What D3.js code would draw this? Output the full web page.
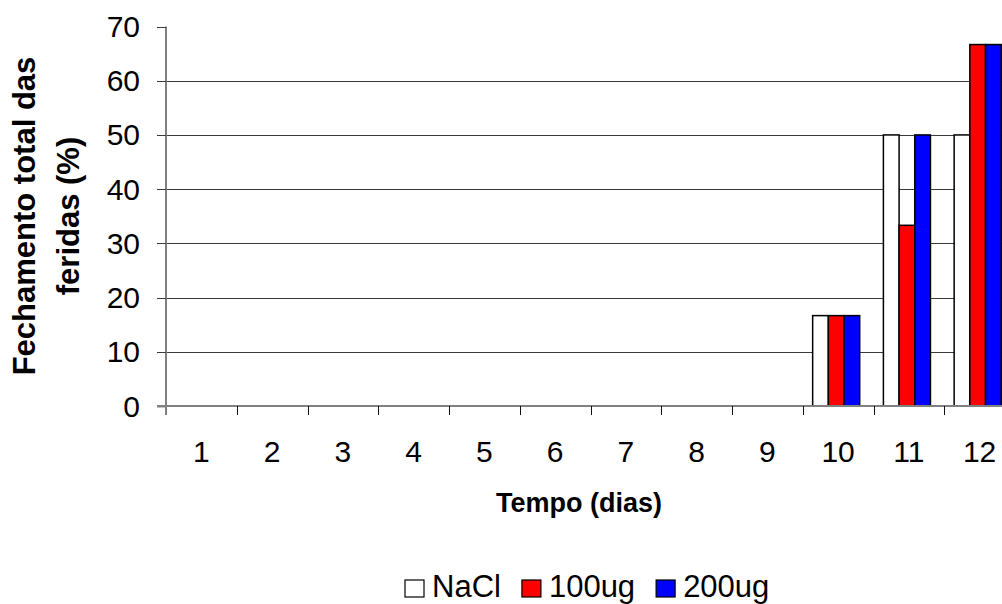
<!DOCTYPE html>
<head>
    <meta charset="utf-8" />
    <script src="https://d3js.org/d3.v7.min.js"></script>
    <style>
        body { margin: 0; background: #fff; }
        text { font-family: Arial, "Liberation Sans", sans-serif; }
    </style>
</head>
<body>
<div id="chart"></div>
<script>
    // dados
    const dias = ["1", "2", "3", "4", "5", "6", "7", "8", "9", "10", "11", "12"];
    const grupos = ["NaCl", "100ug", "200ug"];
    const nacl = [0, 0, 0, 0, 0, 0, 0, 0, 0, 16.67, 50, 50];
    const ug100 = [0, 0, 0, 0, 0, 0, 0, 0, 0, 16.67, 33.33, 66.67];
    const ug200 = [0, 0, 0, 0, 0, 0, 0, 0, 0, 16.67, 50, 66.67];
    const yTicks = [0, 10, 20, 30, 40, 50, 60, 70];
    const cores = ["#ffffff", "#ff0000", "#0000ff"];

    const W = 1002, H = 604;
    const plotLeft = 166, plotTop = 26.5, plotBottom = 406;

    const svg = d3.select("#chart").append("svg")
        .attr("width", W).attr("height", H);
    svg.append("rect").attr("width", W).attr("height", H).attr("fill", "#fff");

    // escalas
    const x = d3.scaleBand().domain(dias).range([plotLeft, plotLeft + 12 * 70.75]);
    const y = d3.scaleLinear().domain([0, 70]).range([plotBottom, plotTop]);
    const xIn = d3.scaleBand().domain(grupos)
        .range([x.bandwidth() * 0.14, x.bandwidth() * 0.805]);

    // linhas de grade
    svg.append("g").selectAll("line")
        .data(yTicks.filter(d => d > 0 && d < 70))
        .enter().append("line")
        .attr("x1", plotLeft).attr("x2", W)
        .attr("y1", d => Math.round(y(d)) + 0.5).attr("y2", d => Math.round(y(d)) + 0.5)
        .attr("stroke", "#3a3a3a").attr("stroke-width", 1);

    // barras
    const series = [nacl, ug100, ug200];
    const barras = [];
    dias.forEach((d, i) => {
        grupos.forEach((g, j) => {
            if (series[j][i] > 0) barras.push({ dia: d, grupo: g, v: series[j][i], c: cores[j] });
        });
    });
    svg.append("g").selectAll("rect")
        .data(barras)
        .enter().append("rect")
        .attr("x", d => x(d.dia) + xIn(d.grupo))
        .attr("y", d => y(d.v))
        .attr("width", xIn.bandwidth())
        .attr("height", d => plotBottom - y(d.v))
        .attr("fill", d => d.c)
        .attr("stroke", "#000")
        .attr("stroke-width", 1.5);

    // eixo y
    const yAxis = svg.append("g");
    yAxis.append("line")
        .attr("x1", plotLeft).attr("x2", plotLeft)
        .attr("y1", plotTop).attr("y2", plotBottom + 9)
        .attr("stroke", "#808080").attr("stroke-width", 2);
    yAxis.selectAll("line.tick")
        .data(yTicks).enter().append("line")
        .attr("class", "tick")
        .attr("x1", plotLeft - 9).attr("x2", plotLeft)
        .attr("y1", d => Math.round(y(d)) + 0.5).attr("y2", d => Math.round(y(d)) + 0.5)
        .attr("stroke", d => d === 0 ? "#808080" : "#3a3a3a")
        .attr("stroke-width", d => d === 0 ? 2 : 1);
    yAxis.selectAll("text")
        .data(yTicks).enter().append("text")
        .attr("x", 140).attr("y", d => y(d) + 10.5)
        .attr("text-anchor", "end")
        .style("font-size", "30px")
        .text(d => d);

    // eixo x
    const xAxis = svg.append("g");
    xAxis.append("line")
        .attr("x1", plotLeft - 9).attr("x2", W)
        .attr("y1", plotBottom).attr("y2", plotBottom)
        .attr("stroke", "#808080").attr("stroke-width", 2);
    xAxis.selectAll("line.tick")
        .data(dias.slice(1)).enter().append("line")
        .attr("class", "tick")
        .attr("x1", d => Math.round(x(d)) + 0.5).attr("x2", d => Math.round(x(d)) + 0.5)
        .attr("y1", plotBottom).attr("y2", plotBottom + 9)
        .attr("stroke", "#111");
    xAxis.selectAll("text")
        .data(dias).enter().append("text")
        .attr("x", d => x(d) + x.bandwidth() / 2)
        .attr("y", 462)
        .attr("text-anchor", "middle")
        .style("font-size", "30px")
        .text(d => d);

    // títulos dos eixos
    svg.append("text")
        .attr("x", 579).attr("y", 512)
        .attr("text-anchor", "middle")
        .style("font-size", "27px").style("font-weight", "bold")
        .text("Tempo (dias)");

    const yt = svg.append("text")
        .attr("transform", "translate(0,216) rotate(-90)")
        .attr("text-anchor", "middle")
        .style("font-size", "31px").style("font-weight", "bold");
    yt.append("tspan").attr("x", 0).attr("y", 35).text("Fechamento total das");
    yt.append("tspan").attr("x", 0).attr("y", 79).text("feridas (%)");

    // legenda
    const leg = svg.append("g");
    let lx = 405;
    grupos.forEach((g, i) => {
        leg.append("rect")
            .attr("x", lx).attr("y", 580)
            .attr("width", 19).attr("height", 17)
            .attr("fill", cores[i]).attr("stroke", "#000").attr("stroke-width", 1.2);
        const t = leg.append("text")
            .attr("x", lx + 27).attr("y", 597)
            .style("font-size", "31px")
            .text(g);
        lx += 27 + t.node().getComputedTextLength() + 21;
    });
</script>
</body>
